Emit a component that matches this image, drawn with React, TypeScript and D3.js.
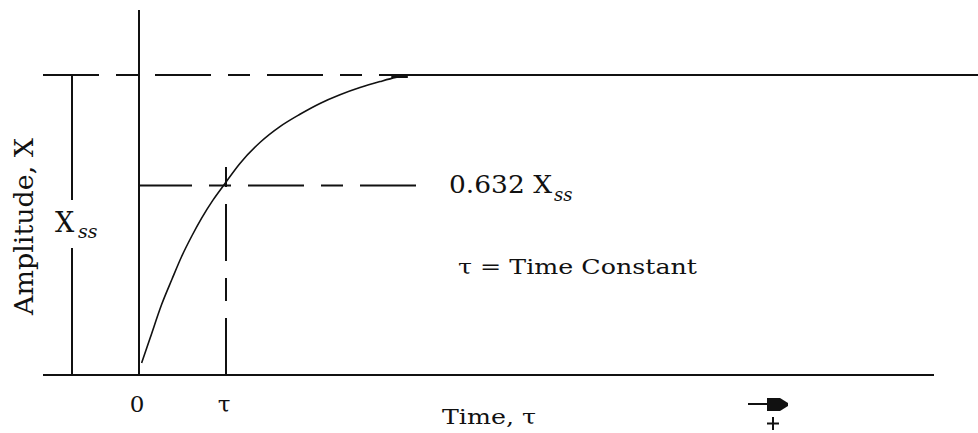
import React from "react";
import * as d3 from "d3";

// ---- data (time in units of tau, amplitude in units of Xss) ----
const curveT = [0.03, 0.13, 0.26, 0.38, 0.49, 0.61, 0.72, 0.85, 0.98, 1.16, 1.39, 1.62, 1.85, 2.08, 2.31, 2.54, 2.77, 2.95, 3.09];
const curveA = [0.04, 0.125, 0.235, 0.32, 0.395, 0.465, 0.523, 0.583, 0.635, 0.705, 0.775, 0.828, 0.869, 0.905, 0.934, 0.958, 0.978, 0.992, 1.0];
const tauValue = 1;
const steadyState = 1;
const fractionAtTau = 0.632;
const tickLabels = ["0", "τ"];
const tickValues = [0, 1];

const W = 978;
const H = 433;
const FONT = "'DejaVu Serif', serif";
const INK = "#111";

export default function App() {
  const x = d3.scaleLinear().domain([0, 1]).range([139, 226]);
  const y = d3.scaleLinear().domain([0, 1]).range([375, 75]);

  const pts: [number, number][] = curveT.map((t, i) => [x(t), y(curveA[i])]);
  const line = d3.line<[number, number]>().curve(d3.curveMonotoneX);
  const curvePath = line(pts) || "";

  const x0 = x(0);
  const yBase = y(0);
  const yTop = y(steadyState);
  const y632 = y(fractionAtTau);
  const xTau = x(tauValue);

  return (
    <div style={{ position: "fixed", left: 0, top: 0 }}>
      <svg width={W} height={H} style={{ display: "block", background: "#fff" }}>
        <rect x={0} y={0} width={W} height={H} fill="#fff" />
        {/* baseline */}
        <line x1={43} x2={934} y1={yBase} y2={yBase} stroke={INK} strokeWidth={2} />
        {/* y axis */}
        <line x1={x0} x2={x0} y1={10} y2={yBase} stroke={INK} strokeWidth={2} />
        {/* steady-state dashed line + solid continuation */}
        <line x1={43} x2={379} y1={yTop} y2={yTop} stroke={INK} strokeWidth={2} strokeDasharray="56,17,22,17" />
        <line x1={379} x2={W} y1={yTop} y2={yTop} stroke={INK} strokeWidth={2} />
        {/* 0.632 line */}
        <line x1={x0} x2={417} y1={y632} y2={y632} stroke={INK} strokeWidth={2} strokeDasharray="56,17,22,17" strokeDashoffset={3} />
        {/* tau vertical */}
        <line x1={xTau} x2={xTau} y1={yBase} y2={167} stroke={INK} strokeWidth={2} strokeDasharray="57,17,23,17" />
        {/* Xss bracket */}
        <line x1={72} x2={72} y1={yTop} y2={200} stroke={INK} strokeWidth={2} />
        <line x1={72} x2={72} y1={248} y2={yBase} stroke={INK} strokeWidth={2} />
        {/* response curve */}
        <path d={curvePath} fill="none" stroke={INK} strokeWidth={1.6} />
        <line x1={x(2.9)} x2={x(3.09)} y1={y(0.995)} y2={y(0.995)} stroke={INK} strokeWidth={3} />

        {/* texts */}
        <text transform={`translate(33,226.5) rotate(-90)`} textAnchor="middle" fontFamily={FONT} fontSize={26}
          textLength={177} lengthAdjust="spacingAndGlyphs" fill={INK}>Amplitude, X</text>
        <text x={55} y={232} fontFamily={FONT} fontSize={27} fill={INK}>X</text>
        <text x={78} y={238} fontFamily={FONT} fontSize={19} fontStyle="italic" fill={INK}>ss</text>

        <text x={449} y={193} fontFamily={FONT} fontSize={24} fill={INK} textLength={103} lengthAdjust="spacingAndGlyphs">0.632 X</text>
        <text x={554} y={201} fontFamily={FONT} fontSize={18} fontStyle="italic" fill={INK}>ss</text>

        <text x={458} y={274} fontFamily={FONT} fontSize={21} fill={INK} textLength={239} lengthAdjust="spacingAndGlyphs">τ = Time Constant</text>

        {tickValues.map((v, i) => (
          <text key={i} x={x(v) - 2} y={412} textAnchor="middle" fontFamily={FONT} fontSize={23} fill={INK}>{tickLabels[i]}</text>
        ))}

        <text x={442} y={424} fontFamily={FONT} fontSize={21} fill={INK} textLength={94} lengthAdjust="spacingAndGlyphs">Time, τ</text>

        {/* arrow glyph */}
        <line x1={748} x2={768} y1={404} y2={404} stroke={INK} strokeWidth={2} />
        <path d="M767,398 L780,398 L788,403 L788,406 L780,411 L767,411 Z" fill={INK} />
        <line x1={767} x2={779} y1={423.5} y2={423.5} stroke={INK} strokeWidth={2} />
        <line x1={773} x2={773} y1={417} y2={430} stroke={INK} strokeWidth={2} />
      </svg>
    </div>
  );
}
